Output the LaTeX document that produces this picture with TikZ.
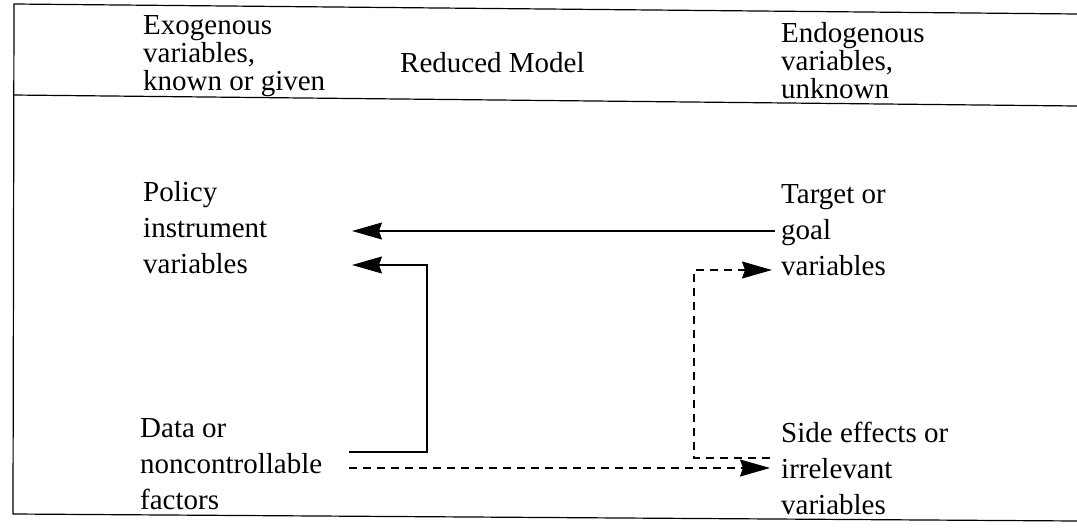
\documentclass[tikz,border=0pt]{standalone}
\usepackage{fontspec}
\setmainfont{Liberation Serif}
\usetikzlibrary{arrows.meta}
\begin{document}
\begin{tikzpicture}[x=1pt,y=-1pt,
  lbl/.style={anchor=west,align=left,inner sep=0pt,font=\fontsize{29}{36}\selectfont},
  hdr/.style={anchor=west,align=left,inner sep=0pt,font=\fontsize{29}{28}\selectfont},
  frameline/.style={line width=1.2pt},
  conn/.style={line width=1.1pt},
  tip/.style={-{Stealth[length=30pt,width=17pt,inset=3pt]}},
  dsh/.style={dash pattern=on 8pt off 6pt}]
\useasboundingbox (0,0) rectangle (1077,530);
% frame
\coordinate (ftr) at (1077,14);
\coordinate (ftl) at (14,4);
\coordinate (fbl) at (13,514);
\coordinate (fbr) at (1077,521);
\coordinate (fml) at (13,95);
\coordinate (fmr) at (1077,106);
\draw[frameline] (ftr) -- (ftl) -- (fbl) -- (fbr);
\draw[frameline] (fml) -- (fmr);
% header
\node[hdr] (exo) at (143,56) {Exogenous\\variables,\\known or given};
\node[hdr] (red) at (400,63) {Reduced Model};
\node[hdr] (endo) at (781,61) {Endogenous\\variables,\\unknown};
% body
\node[lbl] (pol) at (143,228) {Policy\\instrument\\variables};
\node[lbl] (tgt) at (781,230) {Target or\\goal\\variables};
\node[lbl] (dat) at (140,464) {Data or\\noncontrollable\\factors};
\node[lbl] (side) at (781,468) {Side effects or\\irrelevant\\variables};
% connectors
\coordinate (a1s) at (775,231);
\coordinate (a1e) at (352,231);
\draw[conn,tip] (a1s) -- (a1e);
\coordinate (b0) at (349,452);
\coordinate (b1) at (427,452);
\coordinate (b2) at (427,265);
\coordinate (b3) at (352,265);
\draw[conn,tip] (b0) -- (b1) -- (b2) -- (b3);
\coordinate (c0) at (770,458);
\coordinate (c1) at (694,458);
\coordinate (c2) at (694,270);
\coordinate (c3) at (772,270);
\draw[conn,dsh,tip] (c0) -- (c1) -- (c2) -- (c3);
\coordinate (d0) at (349,468);
\coordinate (d1) at (770,468);
\draw[conn,dsh,tip] (d0) -- (d1);
\end{tikzpicture}
\end{document}
